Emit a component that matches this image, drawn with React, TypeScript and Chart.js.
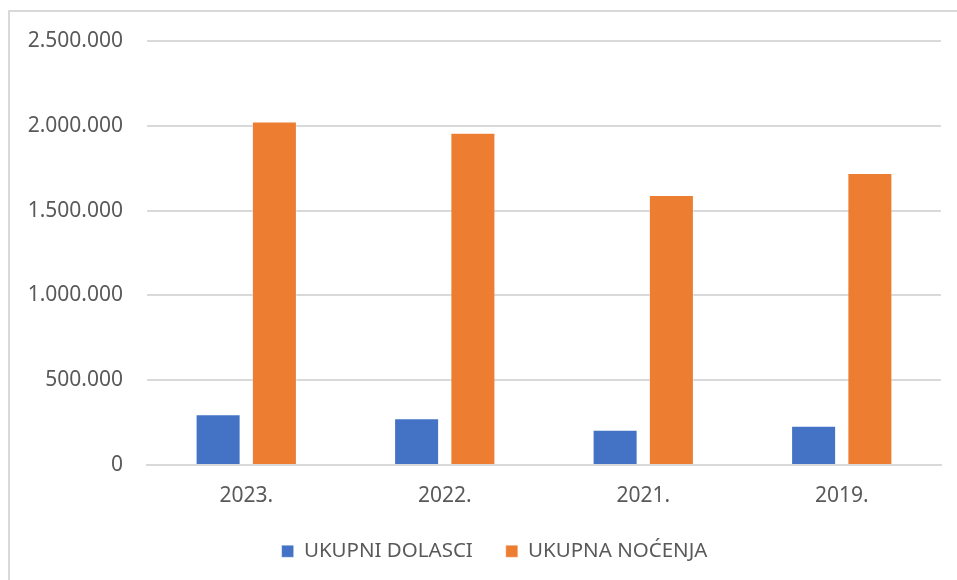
import React, { useEffect, useRef } from "react";
import { Chart, registerables } from "chart.js";

Chart.register(...registerables);

const categories = ["2023.", "2022.", "2021.", "2019."];
const seriesNames = ["UKUPNI DOLASCI", "UKUPNA NOĆENJA"];
const dolasci = [298600, 275000, 208000, 231000];
const nocenja = [2025000, 1959000, 1592000, 1721000];
const yTicks = [0, 500000, 1000000, 1500000, 2000000, 2500000];

const FONT = "'Noto Sans', sans-serif";
const TEXT = "#595959";

function fmt(v: number): string {
  return String(Math.round(v)).replace(/\B(?=(\d{3})+(?!\d))/g, ".");
}

const legendShift = {
  id: "legendShift",
  afterLayout(chart: any) {
    const lg = chart.legend;
    if (lg) {
      lg.left += 24;
      lg.right += 24;
    }
  },
};

export default function App() {
  const ref = useRef<HTMLCanvasElement | null>(null);

  useEffect(() => {
    if (!ref.current) return;
    const chart = new Chart(ref.current, {
      type: "bar",
      data: {
        labels: categories,
        datasets: [
          {
            label: seriesNames[0],
            data: dolasci,
            backgroundColor: "#4472C4",
            borderColor: "rgba(255,255,255,0.35)",
            borderWidth: 1,
            categoryPercentage: 0.567,
            barPercentage: 0.8,
          },
          {
            label: seriesNames[1],
            data: nocenja,
            backgroundColor: "#ED7D31",
            borderColor: "rgba(255,255,255,0.35)",
            borderWidth: 1,
            categoryPercentage: 0.567,
            barPercentage: 0.8,
          },
        ],
      },
      plugins: [legendShift],
      options: {
        animation: false,
        responsive: false,
        maintainAspectRatio: false,
        layout: { padding: { left: 0, right: 16, top: 41, bottom: 8.5 } },
        plugins: {
          tooltip: { enabled: false },
          legend: {
            position: "bottom",
            labels: {
              font: { family: FONT, size: 20.5 },
              color: TEXT,
              boxWidth: 12,
              boxHeight: 12,
              padding: 33,
            },
          },
        },
        scales: {
          x: {
            grid: { display: false, drawTicks: false },
            border: { display: true, color: "#d9d9d9", width: 2 },
            ticks: {
              font: { family: FONT, size: 21 },
              color: TEXT,
              padding: 18,
            },
            afterFit: (s: any) => {
              s.height = 43;
            },
          },
          y: {
            min: 0,
            max: 2500000,
            afterBuildTicks: (s: any) => {
              s.ticks = yTicks.map((v) => ({ value: v }));
            },
            grid: { color: "#d9d9d9", lineWidth: 2, drawTicks: false },
            border: { display: false },
            ticks: {
              font: { family: FONT, size: 21 },
              color: TEXT,
              padding: 24,
              callback: (v: any) => fmt(Number(v)),
            },
            afterFit: (s: any) => {
              s.width = 147;
            },
          },
        },
      },
    });
    return () => chart.destroy();
  }, []);

  return (
    <div
      style={{
        position: "fixed",
        left: 0,
        top: 0,
        width: 957,
        height: 580,
        background: "#fff",
        overflow: "hidden",
      }}
    >
      <div
        style={{
          position: "absolute",
          left: 8,
          top: 10,
          width: 1000,
          height: 1000,
          borderLeft: "2px solid #d9d9d9",
          borderTop: "2px solid #d9d9d9",
        }}
      />
      <canvas
        ref={ref}
        width={957}
        height={580}
        style={{ position: "absolute", left: 0, top: 0, width: 957, height: 580 }}
      />
    </div>
  );
}
